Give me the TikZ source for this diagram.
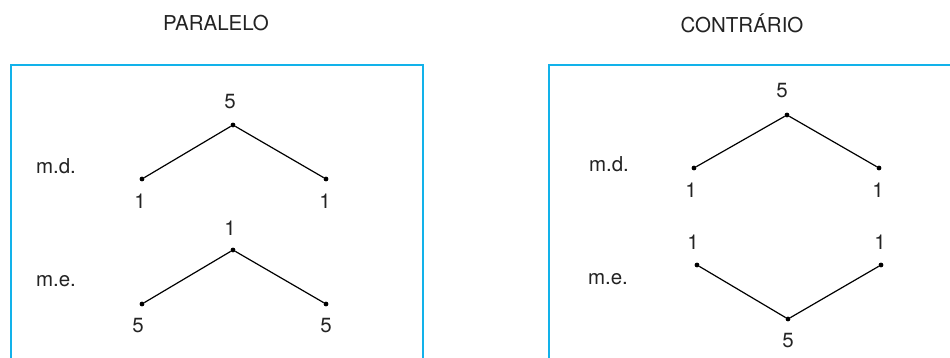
\documentclass[tikz,border=0pt]{standalone}
\usepackage{fontspec}
\setmainfont{TeX Gyre Heros}
\definecolor{framecyan}{RGB}{18,178,234}
\definecolor{inkgray}{RGB}{35,35,35}
\begin{document}
\begin{tikzpicture}[x=1pt,y=-1pt,
  dot/.style={circle,fill=black,inner sep=0pt,minimum size=4.8pt},
  lbl/.style={inner sep=0pt,text=inkgray,font=\fontsize{20.5}{22}\selectfont},
  ttl/.style={inner sep=0pt,text=inkgray,font=\fontsize{20.5}{22}\selectfont},
  edge/.style={draw=black,line width=1.2pt},
  frame/.style={draw=framecyan,line width=2.8pt}]
\useasboundingbox (0,0) rectangle (950,358);

% titles
\node[ttl] (tpar) at (216,23) {PARALELO};
\node[ttl] (tcon) at (742,23) {CONTRÁRIO};

% open frames
\draw[frame] (11,358) -- (11,65) -- (423,65) -- (423,358);
\draw[frame] (549,358) -- (549,65) -- (952,65);

% ---- parallel motion ----
\node[lbl] (pmd) at (56,166) {m.d.};
\node[dot] (pa) at (233,125) {};
\node[dot] (pb) at (142,179) {};
\node[dot] (pc) at (326,179) {};
\draw[edge] (pb) -- (pa) -- (pc);
\node[lbl] (pa5) at (230,102) {5};
\node[lbl] (pb1) at (140,201) {1};
\node[lbl] (pc1) at (325,201) {1};

\node[lbl] (pme) at (56,281) {m.e.};
\node[dot] (pd) at (233,250) {};
\node[dot] (pe) at (142,304) {};
\node[dot] (pf) at (326,304) {};
\draw[edge] (pe) -- (pd) -- (pf);
\node[lbl] (pd1) at (230,228) {1};
\node[lbl] (pe5) at (138,326) {5};
\node[lbl] (pf5) at (326,326) {5};

% ---- contrary motion ----
\node[lbl] (cmd) at (609,164) {m.d.};
\node[dot] (ca) at (787,115) {};
\node[dot] (cb) at (694,168) {};
\node[dot] (cc) at (879,168) {};
\draw[edge] (cb) -- (ca) -- (cc);
\node[lbl] (ca5) at (782,91) {5};
\node[lbl] (cb1) at (691,190) {1};
\node[lbl] (cc1) at (878,190) {1};

\node[lbl] (cme) at (608,279) {m.e.};
\node[dot] (cd) at (697,265) {};
\node[dot] (ce) at (881,265) {};
\node[dot] (cf) at (788,319) {};
\draw[edge] (cd) -- (cf) -- (ce);
\node[lbl] (cd1) at (693,242) {1};
\node[lbl] (ce1) at (880,242) {1};
\node[lbl] (cf5) at (788,341) {5};
\end{tikzpicture}
\end{document}
